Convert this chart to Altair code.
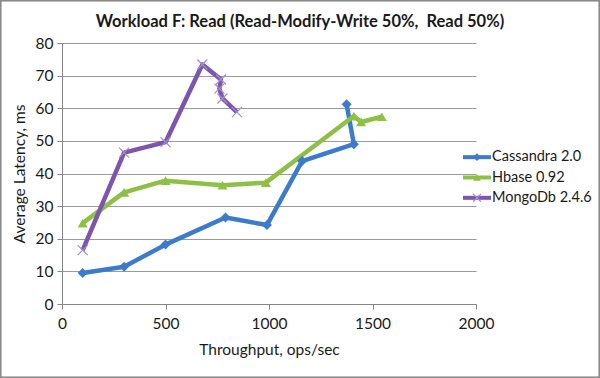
import altair as alt
import pandas as pd

# ---- data ----
title_text = "Workload F: Read (Read-Modify-Write 50%,\u00a0 Read 50%)"
series_names = ["Cassandra 2.0", "Hbase 0.92", "MongoDb 2.4.6"]
series_colors = ["#3C7BCB", "#8FC046", "#7B55AE"]

cassandra_x = [100, 300, 500, 790, 990, 1160, 1410, 1375]
cassandra_y = [9.5, 11.4, 18.2, 26.5, 24.2, 43.8, 49.0, 61.2]

hbase_x = [100, 300, 500, 775, 985, 1410, 1445, 1545]
hbase_y = [24.8, 34.2, 37.8, 36.4, 37.2, 57.6, 55.8, 57.4]

mongo_x = [100, 300, 500, 678, 768, 760, 775, 845]
mongo_y = [16.5, 46.4, 49.6, 73.4, 68.8, 66.0, 63.0, 58.8]

x_ticks = [0, 500, 1000, 1500, 2000]
y_ticks = [0, 10, 20, 30, 40, 50, 60, 70, 80]

rows = []
for name, xs, ys in zip(series_names, [cassandra_x, hbase_x, mongo_x],
                        [cassandra_y, hbase_y, mongo_y]):
    for i, (xv, yv) in enumerate(zip(xs, ys)):
        rows.append({"series": name, "x": xv, "y": yv, "order": i})
df = pd.DataFrame(rows)
legend_df = pd.DataFrame({"series": series_names})
title_df = pd.DataFrame({"t": [title_text]})

FONT = "Lato"
X_PATH = "M-1,-1L1,1M1,-1L-1,1"

color = alt.Color("series:N", scale=alt.Scale(domain=series_names, range=series_colors), legend=None)
shape = alt.Shape("series:N", scale=alt.Scale(domain=series_names[:2], range=["diamond", "triangle-up"]), legend=None)

xenc = alt.X("x:Q", scale=alt.Scale(domain=[0, 2000], nice=False),
             axis=alt.Axis(values=x_ticks, format="d", title="Throughput, ops/sec", grid=False,
                           tickSize=5, labelPadding=7, titlePadding=11, labelOverlap=False,
                           labelFlush=False))
yenc = alt.Y("y:Q", scale=alt.Scale(domain=[0, 80], nice=False),
             axis=alt.Axis(values=y_ticks, title="Average Latency, ms", grid=True,
                           tickSize=5, labelPadding=4, titlePadding=8, labelOverlap=False,
                           labelFlush=False))

base = alt.Chart(df)
lines = base.mark_line(strokeWidth=4.5, strokeJoin="round").encode(
    x=xenc, y=yenc, color=color, order="order:Q")
pts = base.transform_filter(alt.datum.series != series_names[2]).mark_point(
    filled=True, size=100, opacity=1).encode(x=xenc, y=yenc, color=color, shape=shape)
xpts = base.transform_filter(alt.datum.series == series_names[2]).mark_point(
    shape=X_PATH, filled=False, size=100, strokeWidth=1.2, color="#A48ECB", opacity=1).encode(
    x=xenc, y=yenc)

main = alt.layer(lines, pts, xpts)

# ---- legend built from the series names ----
ly = alt.Y("series:N", scale=alt.Scale(domain=series_names, range=[104, 165], padding=0), axis=None)
lb = alt.Chart(legend_df)
lrule = lb.mark_rule(strokeWidth=4).encode(x=alt.value(401), x2=alt.value(429), y=ly, color=color)
lpts = lb.transform_filter(alt.datum.series != series_names[2]).mark_point(
    filled=True, size=60, opacity=1).encode(x=alt.value(415), y=ly, color=color, shape=shape)
lx = lb.transform_filter(alt.datum.series == series_names[2]).mark_point(
    shape=X_PATH, filled=False, size=60, strokeWidth=1.2, color="#A48ECB", opacity=1).encode(
    x=alt.value(415), y=ly)
ltext = lb.mark_text(align="left", baseline="middle", font=FONT, fontSize=14.5, color="#1a1a1a").encode(
    x=alt.value(430), y=ly, text="series:N")
frame = lb.mark_rect(fill=None, stroke="#8a8a8a", strokeWidth=1.5).encode(
    x=alt.value(-61.5), x2=alt.value(537.5), y=alt.value(-42.5), y2=alt.value(334.5))
title = alt.Chart(title_df).mark_text(
    align="center", baseline="middle", font=FONT, fontSize=16.5, fontWeight="bold", color="#1a1a1a"
).encode(x=alt.value(238), y=alt.value(-21), text="t:N")
legend = alt.layer(lrule, lpts, lx, ltext, frame, title)

chart = alt.layer(main, legend).resolve_scale(y="independent").properties(
    width=414, height=261,
    autosize=alt.AutoSizeParams(type="none"),
    padding={"left": 62, "top": 43, "right": 124, "bottom": 74},
    background="white",
).configure_view(stroke=None).configure_axis(
    labelFont=FONT, titleFont=FONT, labelFontSize=15.5, titleFontSize=15.5,
    labelColor="#1a1a1a", titleColor="#1a1a1a", titleFontWeight="normal",
    domainColor="#868686", tickColor="#868686", gridColor="#9a9a9a", gridOpacity=1,
)

chart.save("out.html", embed_options={"renderer": "svg", "actions": False})
